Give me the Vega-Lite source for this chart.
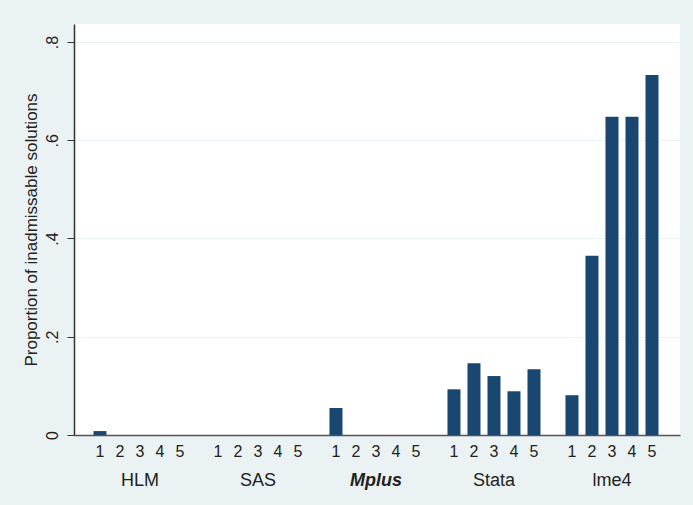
{
  "$schema": "https://vega.github.io/schema/vega-lite/v6.json",
  "width": 606,
  "height": 411,
  "autosize": {"type": "none"},
  "padding": {"left": 74, "top": 24, "right": 13, "bottom": 70},
  "background": "#eaf2f3",
  "config": {
    "font": "Liberation Sans",
    "view": {"fill": "white", "stroke": null}
  },
  "data": {
    "values": [
      {"software": "HLM", "sub": "1", "prop": 0.008},
      {"software": "HLM", "sub": "2", "prop": 0},
      {"software": "HLM", "sub": "3", "prop": 0},
      {"software": "HLM", "sub": "4", "prop": 0},
      {"software": "HLM", "sub": "5", "prop": 0},
      {"software": "SAS", "sub": "1", "prop": 0},
      {"software": "SAS", "sub": "2", "prop": 0},
      {"software": "SAS", "sub": "3", "prop": 0},
      {"software": "SAS", "sub": "4", "prop": 0},
      {"software": "SAS", "sub": "5", "prop": 0},
      {"software": "Mplus", "sub": "1", "prop": 0.055},
      {"software": "Mplus", "sub": "2", "prop": 0},
      {"software": "Mplus", "sub": "3", "prop": 0},
      {"software": "Mplus", "sub": "4", "prop": 0},
      {"software": "Mplus", "sub": "5", "prop": 0},
      {"software": "Stata", "sub": "1", "prop": 0.093},
      {"software": "Stata", "sub": "2", "prop": 0.146},
      {"software": "Stata", "sub": "3", "prop": 0.12},
      {"software": "Stata", "sub": "4", "prop": 0.089},
      {"software": "Stata", "sub": "5", "prop": 0.134},
      {"software": "lme4", "sub": "1", "prop": 0.081},
      {"software": "lme4", "sub": "2", "prop": 0.365},
      {"software": "lme4", "sub": "3", "prop": 0.648},
      {"software": "lme4", "sub": "4", "prop": 0.648},
      {"software": "lme4", "sub": "5", "prop": 0.733}
    ]
  },
  "encoding": {
    "x": {
      "field": "software",
      "type": "nominal",
      "sort": ["HLM", "SAS", "Mplus", "Stata", "lme4"],
      "scale": {"paddingInner": 0.1525, "paddingOuter": 0.144, "align": 0.47},
      "axis": {
        "title": null,
        "labelAngle": 0,
        "ticks": false,
        "labelPadding": 36,
        "labelFontSize": 18,
        "labelColor": "#222222",
        "labelFontWeight": {"condition": {"test": "datum.value == 'Mplus'", "value": "bold"}, "value": "normal"},
        "labelFontStyle": {"condition": {"test": "datum.value == 'Mplus'", "value": "italic"}, "value": "normal"},
        "domainColor": "#555555",
        "domainWidth": 1.5,
        "grid": false
      }
    },
    "xOffset": {
      "field": "sub",
      "type": "nominal",
      "scale": {"paddingInner": 0.35, "paddingOuter": 0.175}
    }
  },
  "layer": [
    {
      "mark": {"type": "bar", "color": "#1a476f"},
      "encoding": {
        "y": {
          "field": "prop",
          "type": "quantitative",
          "scale": {"domain": [0, 0.8366], "nice": false, "zero": true},
          "axis": {
            "title": "Proportion of inadmissable solutions",
            "titleFontSize": 17,
            "titleFontWeight": "normal",
            "titleColor": "#222222",
            "titlePadding": 4,
            "values": [0, 0.2, 0.4, 0.6, 0.8],
            "labelExpr": "datum.value == 0 ? '0' : replace(format(datum.value, '.1f'), /^0/, '')",
            "labelAngle": -90,
            "labelAlign": "center",
            "labelBaseline": "bottom",
            "labelFontSize": 16,
            "labelColor": "#222222",
            "labelPadding": 7,
            "tickSize": 7,
            "tickColor": "#333333",
            "domainColor": "#333333",
            "domainWidth": 1.5,
            "gridColor": "#eaf2f3",
            "gridWidth": 1.2
          }
        }
      }
    },
    {
      "mark": {"type": "text", "dy": 17, "baseline": "middle", "fontSize": 16, "color": "#222222"},
      "encoding": {
        "y": {"datum": 0, "type": "quantitative"},
        "text": {"field": "sub"}
      }
    }
  ]
}
